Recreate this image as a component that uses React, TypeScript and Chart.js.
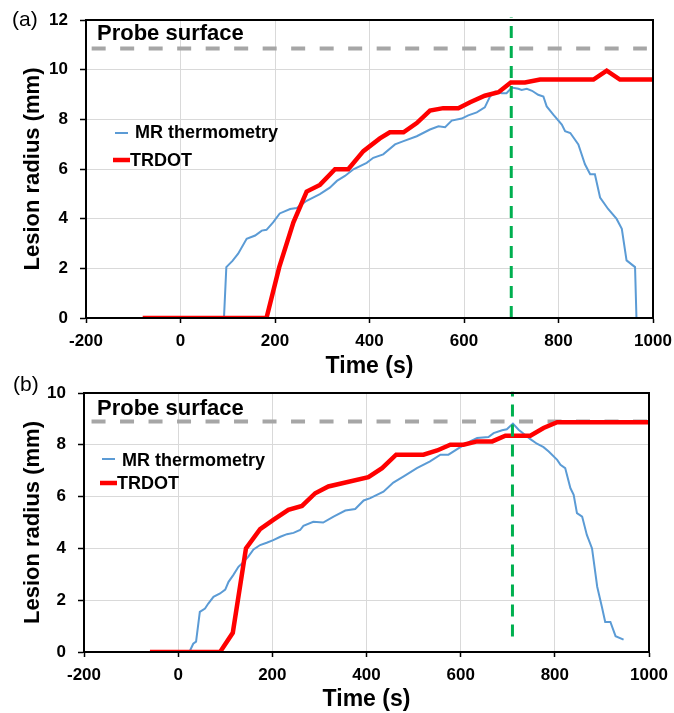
import React, { useEffect, useRef } from "react";
import { Chart, registerables } from "chart.js";
Chart.register(...registerables);

const FONT = "Arial, 'Liberation Sans', Helvetica, sans-serif";

// ---------- shared axis ticks ----------
const xTicks = [-200, 0, 200, 400, 600, 800, 1000];
const yTicksA = [0, 2, 4, 6, 8, 10, 12];
const yTicksB = [0, 2, 4, 6, 8, 10];

// ---------- panel (a) ----------
const mrTimeA = [-200, 92, 97, 110, 122, 140, 158, 172, 182, 196, 210, 232, 246, 267, 295, 316, 331, 348, 366, 394, 408, 429, 454, 472, 500, 528, 546, 560, 574, 595, 609, 627, 644, 655, 666, 680, 690, 701, 715, 722, 733, 744, 757, 768, 775, 789, 807, 814, 825, 842, 856, 867, 877, 888, 905, 923, 934, 944, 962, 965, 975];
const mrRadiusA = [0, 0, 2.05, 2.3, 2.59, 3.19, 3.32, 3.52, 3.55, 3.85, 4.21, 4.39, 4.43, 4.72, 4.99, 5.25, 5.52, 5.72, 5.99, 6.25, 6.45, 6.59, 6.99, 7.12, 7.32, 7.59, 7.72, 7.68, 7.95, 8.03, 8.16, 8.28, 8.48, 8.92, 9.12, 9.05, 9.05, 9.28, 9.23, 9.18, 9.23, 9.15, 8.99, 8.92, 8.52, 8.19, 7.79, 7.52, 7.45, 6.99, 6.19, 5.79, 5.79, 4.85, 4.39, 3.99, 3.59, 2.32, 2.05, 0, 0];
const trdotTimeA = [-80, 182, 209, 239, 267, 295, 327, 355, 387, 422, 443, 472, 500, 528, 556, 588, 613, 644, 673, 699, 729, 761, 874, 902, 930, 1000];
const trdotRadiusA = [0, 0, 2.05, 3.85, 5.09, 5.36, 5.99, 5.99, 6.72, 7.23, 7.48, 7.48, 7.85, 8.35, 8.45, 8.45, 8.69, 8.95, 9.09, 9.48, 9.48, 9.6, 9.6, 9.96, 9.6, 9.6];
const probeA = 10.85;
const probeSpanA = [-188, 987];
const markerTimeA = 700;
const markerSpanA = [0, 12.1];

// ---------- panel (b) ----------
const mrTimeB = [25, 32, 38, 46, 57, 64, 75, 89, 100, 107, 117, 128, 139, 149, 160, 174, 188, 202, 217, 231, 245, 259, 266, 287, 308, 330, 355, 376, 394, 408, 436, 457, 479, 507, 535, 557, 574, 596, 620, 635, 659, 670, 688, 698, 711, 723, 748, 762, 776, 787, 805, 812, 822, 833, 840, 847, 858, 868, 879, 890, 900, 907, 918, 929, 946];
const mrRadiusB = [0.05, 0.32, 0.4, 1.55, 1.68, 1.87, 2.13, 2.26, 2.41, 2.71, 2.97, 3.29, 3.48, 3.68, 3.96, 4.13, 4.22, 4.32, 4.45, 4.55, 4.6, 4.71, 4.87, 5.03, 5.0, 5.23, 5.46, 5.52, 5.85, 5.94, 6.19, 6.54, 6.78, 7.1, 7.36, 7.62, 7.62, 7.87, 8.13, 8.26, 8.3, 8.45, 8.56, 8.6, 8.82, 8.58, 8.22, 8.04, 7.91, 7.74, 7.42, 7.23, 7.1, 6.33, 6.07, 5.36, 5.23, 4.52, 4.0, 2.52, 1.74, 1.16, 1.16, 0.61, 0.48];
const trdotTimeB = [-60, 89, 116, 144, 174, 202, 234, 263, 291, 319, 404, 433, 463, 521, 550, 578, 606, 635, 667, 695, 748, 776, 805, 1000];
const trdotRadiusB = [0, 0, 0.74, 4.0, 4.74, 5.1, 5.49, 5.64, 6.13, 6.39, 6.75, 7.1, 7.62, 7.62, 7.78, 8.0, 8.0, 8.13, 8.13, 8.35, 8.35, 8.65, 8.87, 8.87];
const probeB = 8.9;
const probeSpanB = [-184, 996];
const markerTimeB = 710;
const markerSpanB = [0.6, 10.05];

const seriesNames = ["MR thermometry", "TRDOT"];

const BLUE = "#5B9BD5";
const RED = "#FF0000";
const GRAY = "#A6A6A6";
const GREEN = "#00B050";

const pts = (xs: number[], ys: number[]) => xs.map((x, i) => ({ x, y: ys[i] }));

const overlayPlugin = {
  id: "overlay",
  afterDraw(chart: any, _args: any, o: any) {
    const { ctx, chartArea: ca } = chart;
    ctx.save();
    ctx.strokeStyle = "#000";
    ctx.lineWidth = 2;
    ctx.strokeRect(ca.left, ca.top, ca.right - ca.left, ca.bottom - ca.top);

    ctx.fillStyle = "#000";
    ctx.textAlign = "left";
    ctx.textBaseline = "alphabetic";
    ctx.font = `21px ${FONT}`;
    ctx.fillText(o.panel, o.panelX, o.panelY);

    ctx.font = `bold 22px ${FONT}`;
    ctx.fillText("Probe surface", ca.left + o.probeDx, ca.top + o.probeDy);

    // legend
    const L = o.legend;
    ctx.lineCap = "butt";
    ctx.strokeStyle = BLUE;
    ctx.lineWidth = 2;
    ctx.beginPath();
    ctx.moveTo(ca.left + L.b[0], ca.top + L.b[2]);
    ctx.lineTo(ca.left + L.b[1], ca.top + L.b[2]);
    ctx.stroke();
    ctx.strokeStyle = RED;
    ctx.lineWidth = 4.5;
    ctx.beginPath();
    ctx.moveTo(ca.left + L.r[0], ca.top + L.r[2]);
    ctx.lineTo(ca.left + L.r[1], ca.top + L.r[2]);
    ctx.stroke();
    ctx.font = `bold 18px ${FONT}`;
    ctx.fillStyle = "#000";
    ctx.fillText(seriesNames[0], ca.left + L.bt[0], ca.top + L.bt[1]);
    ctx.fillText(seriesNames[1], ca.left + L.rt[0], ca.top + L.rt[1]);
    ctx.restore();
  },
};

function makeConfig(p: any) {
  return {
    type: "line",
    data: {
      datasets: [
        {
          label: "marker",
          data: [
            { x: p.markerTime, y: p.markerSpan[0] },
            { x: p.markerTime, y: p.markerSpan[1] },
          ],
          borderColor: GREEN,
          borderWidth: 3,
          borderDash: [12, 8],
          pointRadius: 0,
          clip: false,
          order: 0,
        },
        {
          label: seriesNames[1],
          data: pts(p.trT, p.trR),
          borderColor: RED,
          borderWidth: 4.5,
          pointRadius: 0,
          tension: 0,
          borderJoinStyle: "miter",
          order: 1,
        },
        {
          label: seriesNames[0],
          data: pts(p.mrT, p.mrR),
          borderColor: BLUE,
          borderWidth: 2,
          pointRadius: 0,
          tension: 0,
          order: 2,
        },
        {
          label: "Probe surface",
          data: [
            { x: p.probeSpan[0], y: p.probe },
            { x: p.probeSpan[1], y: p.probe },
          ],
          borderColor: GRAY,
          borderWidth: 4,
          borderDash: [14, 14.5],
          pointRadius: 0,
          order: 3,
        },
      ],
    },
    options: {
      responsive: false,
      animation: false,
      events: [],
      layout: { padding: p.padding },
      plugins: {
        legend: { display: false },
        tooltip: { enabled: false },
        overlay: p.overlay,
      },
      scales: {
        x: {
          type: "linear",
          min: -200,
          max: 1000,
          afterBuildTicks: (s: any) => {
            s.ticks = xTicks.map((v) => ({ value: v }));
          },
          afterFit: (s: any) => {
            s.height = p.xHeight;
            s.paddingLeft = 0;
            s.paddingRight = 0;
          },
          grid: { color: "#D9D9D9", lineWidth: 1, tickColor: "#000", tickLength: 5, tickWidth: 1.5 },
          border: { color: "#000", width: 2 },
          ticks: {
            color: "#000",
            padding: 8,
            maxRotation: 0,
            autoSkip: false,
            callback: (v: any) => String(v),
            font: { family: FONT, size: 17, weight: "bold" },
          },
          title: {
            display: true,
            text: "Time (s)",
            color: "#000",
            padding: 0,
            font: { family: FONT, size: 23, weight: "bold" },
          },
        },
        y: {
          type: "linear",
          min: 0,
          max: p.yMax,
          afterBuildTicks: (s: any) => {
            s.ticks = p.yTicks.map((v: number) => ({ value: v }));
          },
          afterFit: (s: any) => {
            s.width = p.yWidth;
            s.paddingTop = 0;
            s.paddingBottom = 0;
          },
          grid: { color: "#D9D9D9", lineWidth: 1, tickColor: "#000", tickLength: 6, tickWidth: 1.5 },
          border: { color: "#000", width: 2 },
          ticks: {
            color: "#000",
            padding: 12,
            callback: (v: any) => String(v),
            font: { family: FONT, size: 17, weight: "bold" },
          },
          title: {
            display: true,
            text: "Lesion radius (mm)",
            color: "#000",
            padding: { top: 20, bottom: 0 },
            font: { family: FONT, size: 22, weight: "bold" },
          },
        },
      },
    },
    plugins: [overlayPlugin],
  } as any;
}

const panelA = {
  mrT: mrTimeA, mrR: mrRadiusA, trT: trdotTimeA, trR: trdotRadiusA,
  probe: probeA, probeSpan: probeSpanA, markerTime: markerTimeA, markerSpan: markerSpanA,
  yMax: 12, yTicks: yTicksA, yWidth: 86, xHeight: 62,
  padding: { top: 20, right: 21, left: 0, bottom: 0 },
  overlay: {
    panel: "(a)", panelX: 12, panelY: 26, probeDx: 11, probeDy: 20,
    legend: { b: [29, 42, 113], r: [27, 44, 140], bt: [49, 118], rt: [44, 146] },
  },
};

const panelB = {
  mrT: mrTimeB, mrR: mrRadiusB, trT: trdotTimeB, trR: trdotRadiusB,
  probe: probeB, probeSpan: probeSpanB, markerTime: markerTimeB, markerSpan: markerSpanB,
  yMax: 10, yTicks: yTicksB, yWidth: 84, xHeight: 61,
  padding: { top: 28, right: 25, left: 0, bottom: 0 },
  overlay: {
    panel: "(b)", panelX: 13, panelY: 26, probeDx: 13, probeDy: 22,
    legend: { b: [18, 31, 66], r: [16, 33, 90], bt: [38, 73], rt: [33, 96] },
  },
};

function Panel({ cfg, top, height }: { cfg: any; top: number; height: number }) {
  const ref = useRef<HTMLCanvasElement | null>(null);
  useEffect(() => {
    if (!ref.current) return;
    const chart = new Chart(ref.current, makeConfig(cfg));
    return () => chart.destroy();
  }, []);
  return (
    <canvas
      ref={ref}
      width={674}
      height={height}
      style={{ position: "absolute", left: 0, top, width: 674, height }}
    />
  );
}

export default function App() {
  return (
    <div style={{ position: "absolute", left: 0, top: 0, width: 674, height: 713, background: "#fff" }}>
      <Panel cfg={panelA} top={0} height={380} />
      <Panel cfg={panelB} top={365} height={348} />
    </div>
  );
}
